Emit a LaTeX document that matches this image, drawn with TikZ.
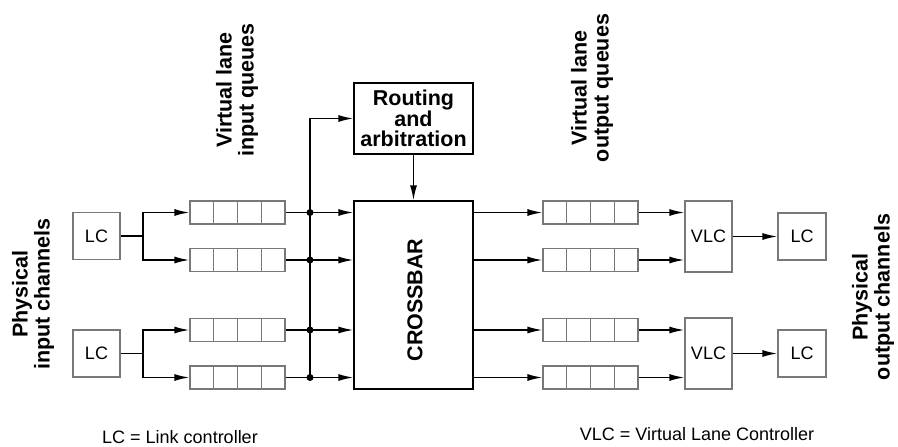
\documentclass[tikz,border=0pt]{standalone}
\usepackage{fontspec}
\setmainfont{Liberation Sans}
\usepackage{xcolor}
\usetikzlibrary{arrows.meta,calc}
\definecolor{boxgray}{RGB}{120,120,120}

\begin{document}
\begin{tikzpicture}[
    x=1pt, y=-1pt,
    box/.style={rectangle, draw=boxgray, line width=1.3pt, inner sep=0pt, font=\fontsize{18}{20}\selectfont},
    queue/.style={rectangle, draw=boxgray, line width=1.3pt, minimum width=95pt, minimum height=23pt, inner sep=0pt},
    arrow/.style={-{Latex[length=15pt,width=7pt]}, line width=1.4pt},
    label/.style={font=\bfseries\fontsize{21.5}{22}\selectfont, align=center},
    dot/.style={circle, fill, inner sep=0pt, minimum size=7pt}
]
    \useasboundingbox (0,0) rectangle (898,447);

    % Nodes
    \node[box, minimum width=47pt, minimum height=47pt] (lcin1) at (96.5,236) {LC};
    \node[box, minimum width=47pt, minimum height=47pt] (lcin2) at (96.5,353.5) {LC};
    \foreach \y [count=\i] in {212.5,260,330,377.5} {
        \node[queue] (qi\i) at (237.5,\y) {};
        \node[queue] (qo\i) at (590.5,\y) {};
        \foreach \k in {1,2,3} {
            \draw[boxgray, line width=1.3pt] ($(qi\i.north west)!\k/4!(qi\i.north east)$) -- ($(qi\i.south west)!\k/4!(qi\i.south east)$);
            \draw[boxgray, line width=1.3pt] ($(qo\i.north west)!\k/4!(qo\i.north east)$) -- ($(qo\i.south west)!\k/4!(qo\i.south east)$);
        }
    }
    \node[box, draw=black, minimum width=119pt, minimum height=71pt, label, font=\bfseries\fontsize{21.5}{20}\selectfont] (route) at (413.5,118.5) {Routing\\and\\arbitration};
    \node[box, draw=black, minimum width=119pt, minimum height=188pt] (xbar) at (413.5,295) {};
    \node[label, rotate=90] (xbartext) at (415,300) {CROSSBAR};
    \node[box, minimum width=47pt, minimum height=71pt] (vlc1) at (708.5,236.5) {VLC};
    \node[box, minimum width=47pt, minimum height=71pt] (vlc2) at (708.5,353.5) {VLC};
    \node[box, minimum width=48pt, minimum height=47pt] (lcout1) at (802,236.5) {LC};
    \node[box, minimum width=48pt, minimum height=47pt] (lcout2) at (802,353.5) {LC};

    % Labels
    \node[label, rotate=90] (inlabel) at (33,294) {Physical\\input channels};
    \node[label, rotate=90] (iqlabel) at (237,90) {Virtual lane\\input queues};
    \node[label, rotate=90] (oqlabel) at (592,88) {Virtual lane\\output queues};
    \node[label, rotate=90] (outlabel) at (873,297) {Physical\\output channels};
    \node[font=\fontsize{18}{20}\selectfont] (lckey) at (180,437) {LC = Link controller};
    \node[font=\fontsize{18}{20}\selectfont] (vlckey) at (697,434) {VLC = Virtual Lane Controller};

    % Coordinates
    \coordinate (s1) at (143,236);
    \coordinate (s2) at (143,353.5);
    \coordinate (bus) at (310,0);

    % Arrows
    \draw[line width=1.4pt] (lcin1) -- (s1);
    \draw[line width=1.4pt] (lcin2) -- (s2);
    \draw[arrow] (s1) |- (qi1);
    \draw[arrow] (s1) |- (qi2);
    \draw[arrow] (s2) |- (qi3);
    \draw[arrow] (s2) |- (qi4);
    \draw[arrow] (qi4.east -| bus) |- (route.west);
    \foreach \i in {1,...,4} {
        \draw[arrow] (qi\i.east) -- (qi\i.east -| xbar.west);
        \node[dot] at (qi\i.east -| bus) {};
        \draw[arrow] (qo\i.west -| xbar.east) -- (qo\i.west);
    }
    \draw[arrow] (route) -- (xbar);
    \draw[arrow] (qo1.east) -- (qo1.east -| vlc1.west);
    \draw[arrow] (qo2.east) -- (qo2.east -| vlc1.west);
    \draw[arrow] (qo3.east) -- (qo3.east -| vlc2.west);
    \draw[arrow] (qo4.east) -- (qo4.east -| vlc2.west);
    \draw[arrow] (vlc1) -- (lcout1);
    \draw[arrow] (vlc2) -- (lcout2);
\end{tikzpicture}
\end{document}
